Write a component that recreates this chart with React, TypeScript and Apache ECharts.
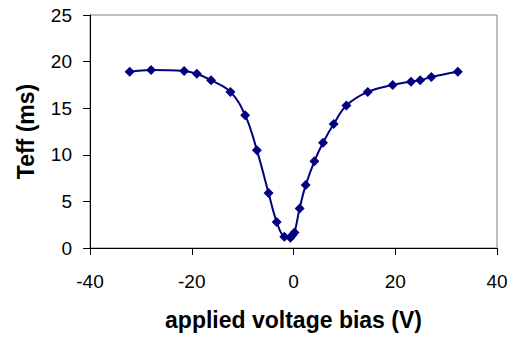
import React, { useEffect, useRef } from "react";
import * as echarts from "echarts";

const voltage = [-32.2, -28.0, -21.5, -19.0, -16.2, -12.4, -9.5, -7.2, -4.9, -3.3, -1.8, -0.6, -0.2, 0.2, 1.2, 2.4, 4.1, 5.8, 7.9, 10.4, 14.6, 19.5, 23.1, 24.9, 27.1, 32.3];
const teff = [18.9, 19.1, 19.0, 18.7, 18.0, 16.75, 14.25, 10.5, 5.9, 2.8, 1.2, 1.1, 1.4, 1.65, 4.25, 6.75, 9.3, 11.3, 13.3, 15.3, 16.75, 17.5, 17.85, 18.0, 18.35, 18.9];
const xTicks = [-40, -20, 0, 20, 40];
const yTicks = [0, 5, 10, 15, 20, 25];

export default function App() {
  const ref = useRef<HTMLDivElement>(null);
  useEffect(() => {
    const chart = echarts.init(ref.current!, null, { renderer: "svg" });
    const font = "Arial, 'Liberation Sans', sans-serif";
    chart.setOption({
      animation: false,
      backgroundColor: "#ffffff",
      grid: {
        left: 90,
        right: 16,
        top: 15,
        bottom: 90,
        show: true,
        borderColor: "#808080",
        borderWidth: 1,
      },
      xAxis: {
        type: "value",
        min: xTicks[0],
        max: xTicks[xTicks.length - 1],
        interval: 20,
        name: "applied voltage bias (V)",
        nameLocation: "middle",
        nameGap: 60,
        nameTextStyle: { fontFamily: font, fontSize: 23, fontWeight: "bold", color: "#000" },
        axisLine: { show: true, onZero: false, lineStyle: { color: "#000", width: 1 } },
        axisTick: { show: true, inside: false, length: 7, lineStyle: { color: "#000" } },
        axisLabel: { fontFamily: font, fontSize: 19, color: "#000", margin: 24 },
        splitLine: { show: false },
      },
      yAxis: {
        type: "value",
        min: yTicks[0],
        max: yTicks[yTicks.length - 1],
        interval: 5,
        name: "Teff (ms)",
        nameLocation: "middle",
        nameGap: 53,
        nameRotate: 90,
        nameTextStyle: { fontFamily: font, fontSize: 23, fontWeight: "bold", color: "#000" },
        axisLine: { show: true, onZero: false, lineStyle: { color: "#000", width: 1 } },
        axisTick: { show: true, inside: false, length: 7, lineStyle: { color: "#000" } },
        axisLabel: { fontFamily: font, fontSize: 19, color: "#000", margin: 18 },
        splitLine: { show: false },
      },
      series: [
        {
          type: "line",
          data: voltage.map((v, i) => [v, teff[i]]),
          smooth: 0.4,
          symbol: "diamond",
          symbolSize: 10,
          lineStyle: { color: "#000080", width: 2 },
          itemStyle: { color: "#000080" },
        },
      ],
    });
    return () => chart.dispose();
  }, []);
  return (
    <div
      ref={ref}
      style={{ position: "fixed", left: 0, top: 0, width: 513, height: 338, background: "#fff" }}
    />
  );
}
